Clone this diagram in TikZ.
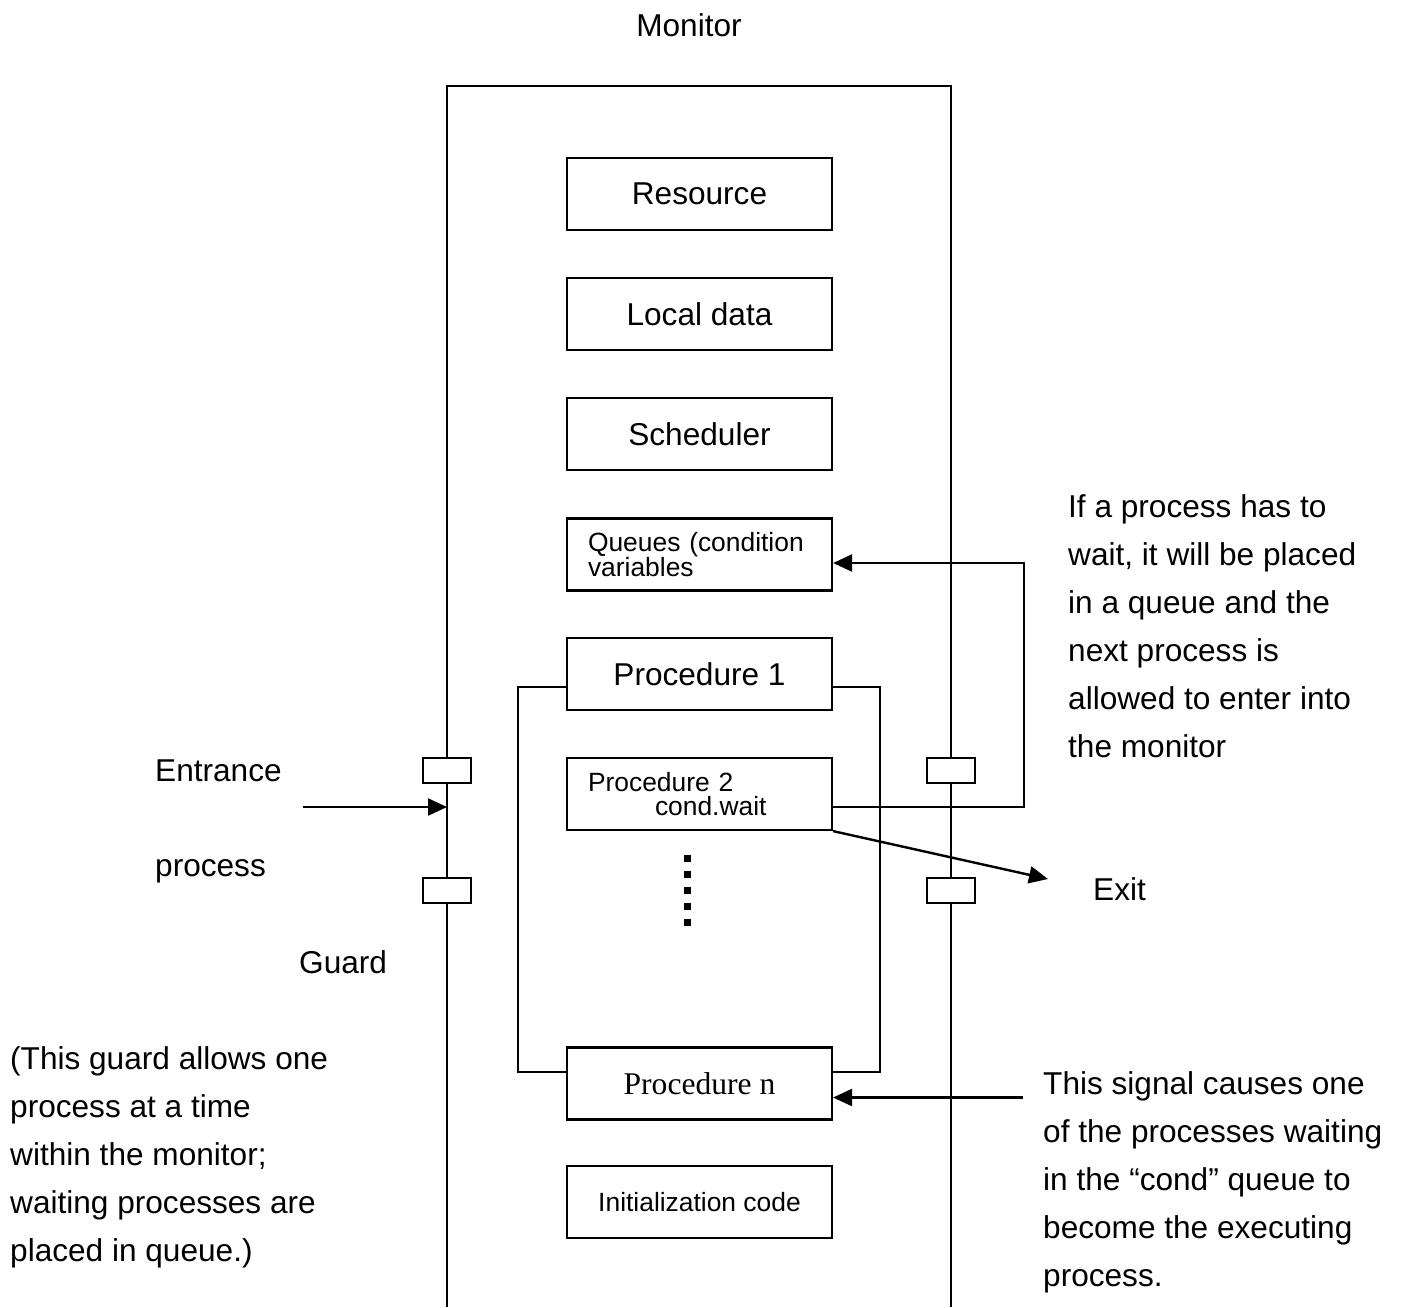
\documentclass[tikz,border=0pt]{standalone}
\usepackage{fontspec}
\setmainfont{Liberation Sans}
\newfontfamily\timesfont{Liberation Serif}
\usetikzlibrary{arrows.meta}

\newcommand{\bigtxt}{\fontsize{31.6}{48}\selectfont}
\newcommand{\smalltxt}{\fontsize{26.4}{23.5}\selectfont}

\begin{document}
\begin{tikzpicture}[x=1pt,y=-1pt,
  wall/.style={line width=2.2pt},
  box/.style={draw, line width=2.2pt, minimum width=265pt, minimum height=72pt,
              inner sep=0pt, font=\bigtxt},
  leftbox/.style={box, font=\smalltxt, text width=223pt, align=left, inner xsep=21pt},
  guard/.style={draw, fill=white, line width=2.2pt, minimum width=48pt,
                minimum height=25pt, inner sep=0pt},
  conn/.style={line width=2.2pt},
  arr/.style={line width=2.4pt, -{Triangle[length=19pt,width=17pt]}},
  lbl/.style={font=\bigtxt, inner sep=0pt, anchor=base west},
  dot/.style={fill=black, minimum size=7pt, inner sep=0pt}
]
\useasboundingbox (0,0) rectangle (1405,1307);

% title
\node[font=\bigtxt, inner sep=0pt, anchor=base] (title) at (689,36) {Monitor};

% monitor walls (open at the bottom)
\draw[wall] (447,1307) -- (447,86) -- (951,86) -- (951,1307);

% inner components
\node[box] (resource) at (699.5,194) {Resource};
\node[box] (local)    at (699.5,314) {Local data};
\node[box] (sched)    at (699.5,434) {Scheduler};
\node[leftbox] (queues) at (699.5,554.5) {Queues (condition\\variables};
\node[box] (proc1)    at (699.5,674) {Procedure 1};
\node[leftbox] (proc2) at (699.5,794) {Procedure 2\\\hspace*{67pt}cond.wait};
\node[box, font=\timesfont\bigtxt] (procn) at (699.5,1083.5) {Procedure n};
\node[box, font=\smalltxt] (init) at (699.5,1202) {Initialization code};

% vertical ellipsis between the procedures
\foreach \k in {0,...,4}
  \node[dot] (dot\k) at (687,858+16*\k) {};

% bracket joining procedure 1 and procedure n
\draw[conn] ([yshift=-13pt]proc1.west) -| ([xshift=-48pt,yshift=11.5pt]procn.west)
            -- ([yshift=11.5pt]procn.west);
\draw[conn] ([yshift=-13pt]proc1.east) -| ([xshift=47pt,yshift=11.5pt]procn.east)
            -- ([yshift=11.5pt]procn.east);

% guards on both walls
\node[guard] (gl1) at (447,770.5) {};
\node[guard] (gl2) at (447,890.5) {};
\node[guard] (gr1) at (951,770.5) {};
\node[guard] (gr2) at (951,890.5) {};

% entrance
\coordinate (entryfrom) at (303,807);
\coordinate (entryto) at (447,807);
\draw[arr] (entryfrom) -- (entryto);

% wait: back into the condition queue
\draw[arr] ([yshift=-13pt]proc2.east) -| ([xshift=191pt,yshift=-8.5pt]queues.east)
           -- ([yshift=-8.5pt]queues.east);

% exit
\coordinate (exittip) at (1048,879);
\draw[arr] (proc2.south east) -- (exittip);

% signal
\coordinate (sigfrom) at (1023,1097.5);
\draw[arr] (sigfrom) -- ([yshift=-14pt]procn.east);

% labels
\node[lbl] (entrance) at (155,781) {Entrance};
\node[lbl] (process)  at (155,876) {process};
\node[lbl] (guardlbl) at (299,973) {Guard};
\node[lbl] (exitlbl)  at (1093,900) {Exit};

\node[lbl] (guardnote) at (10,1069) {\begin{tabular}[t]{@{}l@{}}
(This guard allows one\\
process at a time\\
within the monitor;\\
waiting processes are\\
placed in queue.)\end{tabular}};

\node[lbl] (waitnote) at (1068,517) {\begin{tabular}[t]{@{}l@{}}
If a process has to\\
wait, it will be placed\\
in a queue and the\\
next process is\\
allowed to enter into\\
the monitor\end{tabular}};

\node[lbl] (signalnote) at (1043,1094) {\begin{tabular}[t]{@{}l@{}}
This signal causes one\\
of the processes waiting\\
in the “cond” queue to\\
become the executing\\
process.\end{tabular}};
\end{tikzpicture}
\end{document}
